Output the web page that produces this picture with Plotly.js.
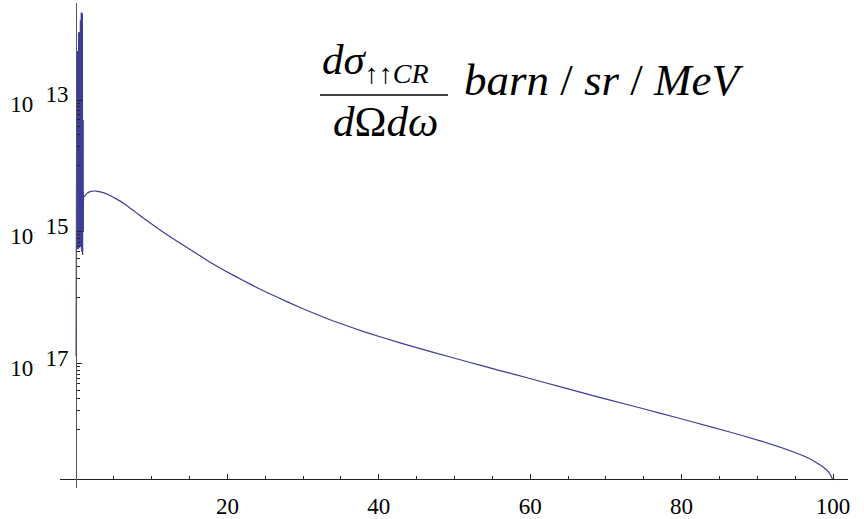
<!DOCTYPE html>
<html>
<head>
<meta charset="utf-8">
<script src="https://cdn.plot.ly/plotly-3.0.1.min.js"></script>
<style>html,body{margin:0;padding:0;background:#fff;}#chart{width:864px;height:519px;}</style>
</head>
<body>
<div id="chart"></div>
<script>
// Oscillating region near omega = 0
const oscX = [0.00,0.02,0.04,0.06,0.08,0.10,0.12,0.14,0.16,0.18,0.20,0.22,0.24,0.26,0.28,0.30,0.32,0.34,0.36,0.38,0.40,0.42,0.44,0.46,0.48,0.50,0.52,0.54,0.56,0.58,0.60,0.62,0.64,0.66,0.68,0.70,0.72,0.74,0.76,0.78,0.80,0.82,0.84,0.86,0.88,0.90,0.92,0.94,0.96,0.98,1.00];
const oscY = [1.3e-17,4.0e-13,1.3e-17,4.5e-13,2.0e-17,5.0e-13,6.0e-16,5.0e-13,5.5e-16,5.5e-13,6.0e-16,5.5e-13,6.0e-16,1.0e-12,6.0e-16,1.05e-12,5.5e-16,1.05e-12,6.0e-16,1.07e-12,6.0e-16,1.07e-12,5.8e-16,1.07e-12,6.0e-16,1.07e-12,6.0e-16,1.6e-12,6.0e-16,1.6e-12,6.0e-16,1.62e-12,6.0e-16,2.0e-12,6.0e-16,2.1e-12,5.5e-16,2.1e-12,6.0e-16,2.1e-12,5.0e-16,2.0e-12,5.0e-16,2.0e-12,4.5e-16,6.0e-13,4.5e-16,5.0e-14,1.0e-15,4.0e-15,2.5e-15];

// Smooth part of the cross section
const curveX = [1.06,1.5,2.0,2.64,3.5,4.36,5.5,6.6,7.7,8.85,10.96,13.2,15.5,17.6,19.8,22.1,24.2,26.4,29.6,33.9,38.4,42.8,47.2,51.7,56.0,59.6,63.9,68.3,72.8,77.1,81.5,86.0,90.4,94.7,97.0,98.7,99.5,100.0];
const curveY = [3.39e-15,3.89e-15,4.12e-15,4.17e-15,3.98e-15,3.63e-15,3.09e-15,2.57e-15,2.07e-15,1.64e-15,1.10e-15,7.41e-16,5.07e-16,3.55e-16,2.54e-16,1.84e-16,1.38e-16,1.05e-16,7.16e-17,4.52e-17,2.99e-17,2.09e-17,1.50e-17,1.08e-17,7.94e-18,6.17e-18,4.52e-18,3.31e-18,2.43e-18,1.80e-18,1.32e-18,9.55e-19,6.84e-19,4.68e-19,3.63e-19,2.75e-19,2.24e-19,1.74e-19];

// Axis ticks
const xMajor = [20,40,60,80,100];
const xMinor = [5,10,15,25,30,35,45,50,55,65,70,75,85,90,95];
const yMajor = [1e-13,1e-15,1e-17];
const yExp = ['13','15','17'];
const yMinor = [9e-14,8e-14,7e-14,6e-14,5e-14,4e-14,3e-14,2e-14,1e-14,
                9e-16,8e-16,7e-16,6e-16,5e-16,4e-16,3e-16,2e-16,1e-16,
                9e-18,8e-18,7e-18,6e-18,5e-18,4e-18,3e-18,2e-18,1e-18];

const nb = '\u00A0';
const yText = yExp.map(e => '10<sup><span style="font-size:5px">-</span></sup>' + nb + '\u2009' + '<sup><span style="font-size:23px">' + e + '</span></sup>');

const lineColor = 'rgb(61,61,153)';
const serif = '"Liberation Serif", "Times New Roman", "DejaVu Serif", serif';

const traces = [
  {x: oscX, y: oscY, type: 'scatter', mode: 'lines', line: {color: lineColor, width: 1}, hoverinfo: 'skip'},
  {x: curveX, y: curveY, type: 'scatter', mode: 'lines', line: {color: lineColor, width: 1.2, shape: 'spline', smoothing: 0.3}, hoverinfo: 'skip'}
];

// plot area in pixels: x 60..848, y 3..488
const L = 60, R = 848, T = 3, B = 488;
const px = v => (v - L) / (R - L);
const py = v => (B - v) / (B - T);

const layout = {
  width: 864, height: 519,
  margin: {l: L, r: 864 - R, t: T, b: 519 - B, pad: 0},
  paper_bgcolor: '#fff', plot_bgcolor: '#fff',
  showlegend: false,
  font: {family: serif, size: 23, color: '#000'},
  xaxis: {
    range: [-2.11, 101.98],
    anchor: 'free', position: py(479),
    showline: true, linecolor: '#222', linewidth: 1,
    showgrid: false, zeroline: false,
    tickmode: 'array', tickvals: xMajor, ticktext: xMajor.map(String),
    ticks: 'inside', ticklen: 5, tickwidth: 1, tickcolor: '#222',
    minor: {tickmode: 'array', tickvals: xMinor, ticks: 'inside', ticklen: 3, tickwidth: 1, tickcolor: '#222', showgrid: false},
    tickfont: {family: serif, size: 23, color: '#000'},
    ticklabelstandoff: 6
  },
  yaxis: {
    type: 'log',
    range: [-18.88, -11.53],
    anchor: 'free', position: px(76),
    showline: true, linecolor: '#555', linewidth: 1,
    showgrid: false, zeroline: false,
    tickmode: 'array', tickvals: yMajor, ticktext: yText,
    ticks: 'inside', ticklen: 5, tickwidth: 1, tickcolor: '#222',
    minor: {tickmode: 'array', tickvals: yMinor, ticks: 'inside', ticklen: 3, tickwidth: 1, tickcolor: '#222', showgrid: false},
    tickfont: {family: serif, size: 23, color: '#000'},
    ticklabelstandoff: 3,
    ticklabelshift: 4
  },
  annotations: [
    {xref: 'paper', yref: 'paper', x: px(320), y: py(91), xanchor: 'left', yanchor: 'bottom', showarrow: false,
     text: '<i>dσ</i><sub><span style="font-size:28px">↑↑<i>CR</i></span></sub>', font: {family: serif, size: 43, color: '#000'}},
    {xref: 'paper', yref: 'paper', x: px(385), y: py(121), xanchor: 'center', yanchor: 'middle', showarrow: false,
     text: '<i>d</i>Ω<i>dω</i>', font: {family: serif, size: 43, color: '#000'}},
    {xref: 'paper', yref: 'paper', x: px(462), y: py(80), xanchor: 'left', yanchor: 'middle', showarrow: false,
     text: '<i>barn</i> / <i>sr</i> / <i>MeV</i>', font: {family: serif, size: 45, color: '#000'}}
  ],
  shapes: [
    {type: 'line', xref: 'paper', yref: 'paper', x0: px(320), x1: px(448), y0: py(95), y1: py(95), line: {color: '#000', width: 1.5}}
  ]
};

Plotly.newPlot('chart', traces, layout, {staticPlot: true, displayModeBar: false});
</script>
</body>
</html>
